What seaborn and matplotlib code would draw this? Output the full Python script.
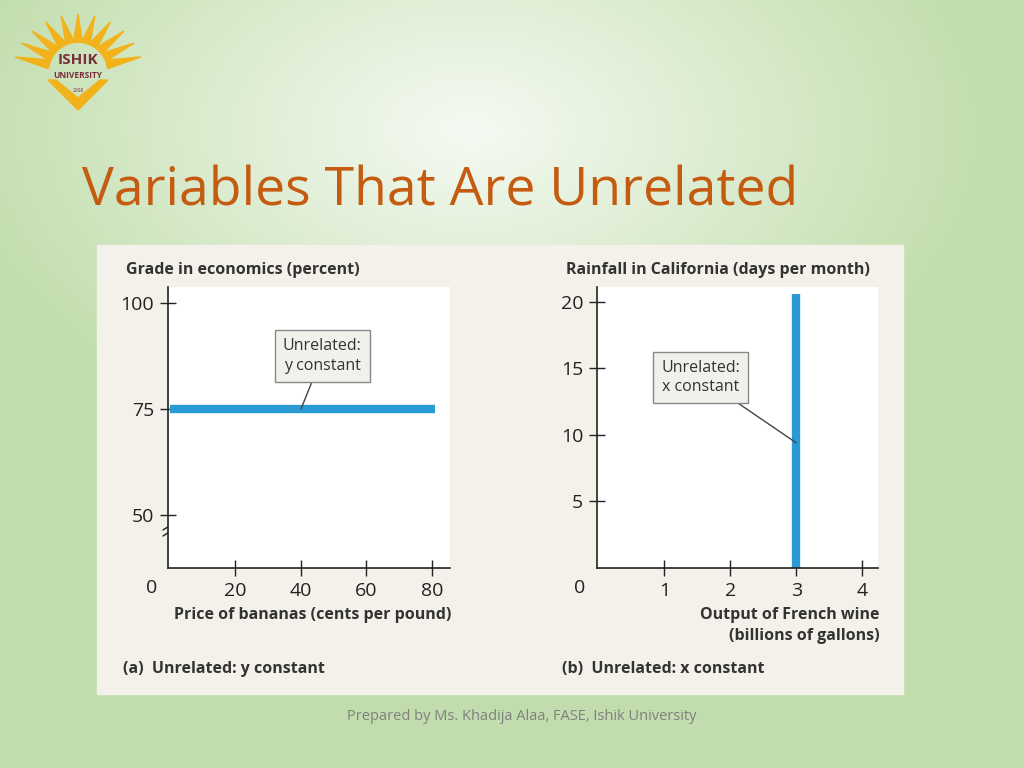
import numpy as np
import matplotlib
matplotlib.use("Agg")
import matplotlib.pyplot as plt
import seaborn as sns
import pandas as pd

# data
banana_price = [0, 81]
grade = [75, 75]
wine_output = [3, 3]
rainfall = [0, 20.6]
left_xticks = [20, 40, 60, 80]
left_yticks = [50, 75, 100]
right_xticks = [1, 2, 3, 4]
right_yticks = [5, 10, 15, 20]

W, H = 1024, 768
BLUE = "#2A9AD4"
TXT = "#333333"
sns.set_style("white")
plt.rcParams["font.family"] = "Open Sans"

fig = plt.figure(figsize=(W / 100, H / 100), dpi=100)


def px(x0, y0, x1, y1):
    return [x0 / W, 1 - y1 / H, (x1 - x0) / W, (y1 - y0) / H]


# background gradient
bg = fig.add_axes([0, 0, 1, 1])
yy, xx = np.mgrid[0:H, 0:W]
d = np.sqrt(((xx - 470) / 520.0) ** 2 + ((yy - 130) / 330.0) ** 2)
t = np.clip(d, 0, 1)[..., None]
c0 = np.array([0.96, 0.98, 0.95])
c1 = np.array([0.76, 0.87, 0.68])
bg.imshow(c0 * (1 - t) + c1 * t, aspect="auto", extent=[0, W, H, 0])
bg.set_xlim(0, W)
bg.set_ylim(H, 0)
bg.axis("off")

# logo (simple sun)
for a in np.linspace(15, 165, 11):
    r = np.radians(a)
    cx, cy = 78, 72
    tip = (cx - 65 * np.cos(r), cy - 58 * np.sin(r))
    b1 = (cx - 30 * np.cos(r - 0.15), cy - 30 * np.sin(r - 0.15))
    b2 = (cx - 30 * np.cos(r + 0.15), cy - 30 * np.sin(r + 0.15))
    bg.add_patch(plt.Polygon([tip, b1, b2], color="#F2B21C"))
bg.add_patch(plt.Polygon([(48, 80), (78, 110), (108, 80), (100, 80), (78, 98), (56, 80)], color="#F2B21C"))
bg.text(78, 60, "ISHIK", ha="center", va="center", fontsize=11, color="#7A2E3A", fontweight="bold")
bg.text(78, 76, "UNIVERSITY", ha="center", va="center", fontsize=6, color="#7A2E3A", fontweight="bold")
bg.text(78, 90, "2008", ha="center", va="center", fontsize=3.5, color="#7A2E3A")

# title and footer
bg.text(82, 192, "Variables That Are Unrelated", fontsize=38.5, color="#C55A11", va="center")
bg.text(522, 717, "Prepared by Ms. Khadija Alaa, FASE, Ishik University", fontsize=10.5,
        color="#7F7F7F", ha="center", va="center")

# white/beige panel
bg.add_patch(plt.Rectangle((97, 245), 806, 449, color="#F3F1EA", zorder=2))

# panel (a)
ax1 = fig.add_axes(px(168, 287, 450, 568))
df1 = pd.DataFrame({"price": banana_price, "grade": grade})
sns.lineplot(data=df1, x="price", y="grade", ax=ax1, color=BLUE, lw=6, solid_capstyle="butt")
ax1.set_xlim(-0.6, 85.5)
ax1.set_ylim(37.5, 103.8)
ax1.set_xticks(left_xticks)
ax1.set_yticks(left_yticks)
ax1.set_xlabel("")
ax1.set_ylabel("")

# panel (b)
ax2 = fig.add_axes(px(597, 287, 878, 568))
df2 = pd.DataFrame({"output": wine_output, "rain": rainfall})
sns.lineplot(data=df2, x="output", y="rain", ax=ax2, color=BLUE, lw=6,
             solid_capstyle="butt", sort=False, orient="y")
ax2.set_xlim(-0.02, 4.24)
ax2.set_ylim(0, 21.1)
ax2.set_xticks(right_xticks)
ax2.set_yticks(right_yticks)
ax2.set_xlabel("")
ax2.set_ylabel("")

for ax in (ax1, ax2):
    ax.set_facecolor("white")
    for s in ("top", "right"):
        ax.spines[s].set_visible(False)
    for s in ("left", "bottom"):
        ax.spines[s].set_color("#222222")
        ax.spines[s].set_linewidth(1.2)
    ax.tick_params(left=True, bottom=True, direction="inout", length=12, width=1,
                   labelsize=14, colors="#222222", pad=4)
    ax.set_zorder(3)

# axis-break mark and zero labels
bg.plot([163, 174], [530, 523], color="#222222", lw=1, zorder=4)
bg.plot([163, 174], [536, 529], color="#222222", lw=1, zorder=4)
bg.plot([168, 168], [524, 535], color="#F3F1EA", lw=2, zorder=3.5)
bg.text(152, 588, "0", fontsize=14, ha="center", va="center", color="#222222", zorder=4)
bg.text(580, 588, "0", fontsize=14, ha="center", va="center", color="#222222", zorder=4)

# labels
kw = dict(fontsize=11.5, fontweight="bold", color=TXT, zorder=4)
bg.text(126, 270, "Grade in economics (percent)", va="center", **kw)
bg.text(566, 270, "Rainfall in California (days per month)", va="center", **kw)
bg.text(451, 615, "Price of bananas (cents per pound)", ha="right", va="center", **kw)
bg.text(880, 615, "Output of French wine", ha="right", va="center", **kw)
bg.text(880, 636, "(billions of gallons)", ha="right", va="center", **kw)
bg.text(123, 669, "(a)  Unrelated: y constant", va="center", **kw)
bg.text(562, 669, "(b)  Unrelated: x constant", va="center", **kw)

# callouts
ax1.annotate("Unrelated:\ny constant", xy=(40, 75), xytext=(46.5, 87.5), fontsize=11.5,
             color=TXT, ha="center", va="center", linespacing=1.3,
             bbox=dict(boxstyle="square,pad=0.5", fc="#F1F1EC", ec="#888888", lw=1),
             arrowprops=dict(arrowstyle="-", color="#444444", lw=1, shrinkA=0, shrinkB=0))
ax2.annotate("Unrelated:\nx constant", xy=(3, 9.4), xytext=(1.55, 14.3), fontsize=11.5,
             color=TXT, ha="center", va="center", linespacing=1.3,
             bbox=dict(boxstyle="square,pad=0.5", fc="#F1F1EC", ec="#888888", lw=1),
             arrowprops=dict(arrowstyle="-", color="#444444", lw=1, shrinkA=0, shrinkB=0))

fig.savefig("out.png", dpi=100)
